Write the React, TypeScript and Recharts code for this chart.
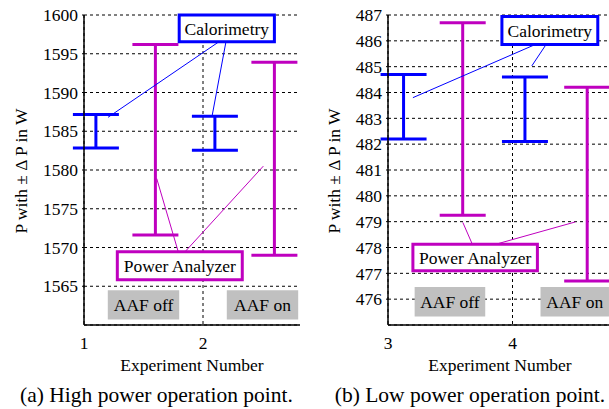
import React from 'react';
import {
  ScatterChart, Scatter, XAxis, YAxis, CartesianGrid, ErrorBar,
  ReferenceArea, ReferenceLine,
} from 'recharts';

const FONT = '"Liberation Serif", "Times New Roman", serif';
const BLUE = '#0000ff';
const MAGENTA = '#bf00bf';
const GRAY = '#c0c0c0';
const FS = 17.5;

// (a) high power operation point
const highCalX = [1.1, 2.1];
const highCalLow = [1582.85, 1582.55];
const highCalHigh = [1587.15, 1586.95];
const highPaX = [1.6, 2.6];
const highPaLow = [1571.6, 1569.0];
const highPaHigh = [1596.2, 1593.9];
const highXTicks = [1, 2];
const highYTicks = [1565, 1570, 1575, 1580, 1585, 1590, 1595, 1600];

// (b) low power operation point
const lowCalX = [3.125, 4.1];
const lowCalLow = [482.2, 482.1];
const lowCalHigh = [484.7, 484.6];
const lowPaX = [3.6, 4.6];
const lowPaLow = [479.25, 476.7];
const lowPaHigh = [486.7, 484.2];
const lowXTicks = [3, 4];
const lowYTicks = [476, 477, 478, 479, 480, 481, 482, 483, 484, 485, 486, 487];

const toRows = (xs: number[], lo: number[], hi: number[]) =>
  xs.map((x, i) => ({ x, y: (lo[i] + hi[i]) / 2, err: (hi[i] - lo[i]) / 2 }));

type Box = { x1: number; x2: number; y1: number; y2: number; label: string };
type Seg = [number, number, number, number];

interface PanelProps {
  left: number;
  clipWidth: number;
  yAxisWidth: number;
  plotWidth: number;
  xDomain: [number, number];
  yDomain: [number, number];
  xTicks: number[];
  yTicks: number[];
  cal: { x: number; y: number; err: number }[];
  pa: { x: number; y: number; err: number }[];
  aaf: Box[];
  calBox: Box;
  paBox: Box;
  calLeaders: Seg[];
  paLeaders: Seg[];
}

const noShape = () => <g />;

function Panel(p: PanelProps) {
  const width = p.yAxisWidth + p.plotWidth + 10;
  const tick = { fontSize: FS, fill: '#000', fontFamily: FONT };
  return (
    <div style={{ position: 'absolute', left: p.left, top: 0, width: p.clipWidth, height: 355, overflow: 'hidden' }}>
      <ScatterChart width={width} height={355} margin={{ top: 15, right: 10, bottom: 0, left: 0 }}>
        <CartesianGrid stroke="#000" strokeDasharray="3 3" strokeWidth={1} />
        <XAxis
          type="number" dataKey="x" domain={p.xDomain} ticks={p.xTicks} allowDataOverflow interval={0}
          height={30} tickLine={false} tickSize={0} tickMargin={12} tick={tick}
          axisLine={{ stroke: '#000', strokeWidth: 1.5 }}
        />
        <YAxis
          type="number" dataKey="y" domain={p.yDomain} ticks={p.yTicks} allowDataOverflow interval={0}
          width={p.yAxisWidth} tickSize={2} tickMargin={4} tick={tick}
          tickLine={{ stroke: '#000' }} axisLine={{ stroke: '#000', strokeWidth: 1.5 }}
        />
        {p.aaf.map((b, i) => (
          <ReferenceArea
            key={'aaf' + i} x1={b.x1} x2={b.x2} y1={b.y1} y2={b.y2} ifOverflow="visible"
            fill={GRAY} fillOpacity={1} stroke="none"
            label={{ value: b.label, position: 'center', fill: '#000', fontSize: FS, fontFamily: FONT }}
          />
        ))}
        <Scatter data={p.cal} shape={noShape} isAnimationActive={false}>
          <ErrorBar dataKey="err" direction="y" width={23} strokeWidth={3} stroke={BLUE} isAnimationActive={false} />
        </Scatter>
        <Scatter data={p.pa} shape={noShape} isAnimationActive={false}>
          <ErrorBar dataKey="err" direction="y" width={23} strokeWidth={3} stroke={MAGENTA} isAnimationActive={false} />
        </Scatter>
        {p.calLeaders.map((s, i) => (
          <ReferenceLine key={'cl' + i} segment={[{ x: s[0], y: s[1] }, { x: s[2], y: s[3] }]}
            stroke={BLUE} strokeWidth={1} ifOverflow="visible" />
        ))}
        {p.paLeaders.map((s, i) => (
          <ReferenceLine key={'pl' + i} segment={[{ x: s[0], y: s[1] }, { x: s[2], y: s[3] }]}
            stroke={MAGENTA} strokeWidth={1} ifOverflow="visible" />
        ))}
        {[{ b: p.calBox, c: BLUE }, { b: p.paBox, c: MAGENTA }].map(({ b, c }, i) => (
          <ReferenceArea
            key={'box' + i} x1={b.x1} x2={b.x2} y1={b.y1} y2={b.y2} ifOverflow="visible"
            fill="#fff" fillOpacity={1} stroke={c} strokeWidth={3}
            label={{ value: b.label, position: 'center', fill: '#000', fontSize: FS, fontFamily: FONT }}
          />
        ))}
      </ScatterChart>
    </div>
  );
}

export default function App() {
  const txt = { fontSize: FS, fontFamily: FONT, fill: '#000' };
  return (
    <div style={{ position: 'absolute', left: 0, top: 0, width: 609, height: 409, background: '#fff', fontFamily: FONT }}>
      <style>{`.recharts-wrapper text, .recharts-text { font-family: ${FONT}; }`}</style>
      <Panel
        left={0} clipWidth={300} yAxisWidth={84} plotWidth={238}
        xDomain={[1, 3]} yDomain={[1560, 1600]} xTicks={highXTicks} yTicks={highYTicks}
        cal={toRows(highCalX, highCalLow, highCalHigh)}
        pa={toRows(highPaX, highPaLow, highPaHigh)}
        aaf={[
          { x1: 1.2, x2: 1.8, y1: 1560.7, y2: 1564.5, label: 'AAF off' },
          { x1: 2.2, x2: 2.8, y1: 1560.7, y2: 1564.5, label: 'AAF on' },
        ]}
        calBox={{ x1: 1.8, x2: 2.6, y1: 1596.55, y2: 1600, label: 'Calorimetry' }}
        paBox={{ x1: 1.28, x2: 2.33, y1: 1565.85, y2: 1569.45, label: 'Power Analyzer' }}
        calLeaders={[[2.134, 1596.55, 1.202, 1586.8], [2.193, 1596.55, 2.078, 1587.1]]}
        paLeaders={[[1.611, 1578.9, 1.792, 1569.45], [1.849, 1569.45, 2.507, 1580.5]]}
      />
      <Panel
        left={300} clipWidth={309} yAxisWidth={88} plotWidth={249}
        xDomain={[3, 5]} yDomain={[475, 487]} xTicks={lowXTicks} yTicks={lowYTicks}
        cal={toRows(lowCalX, lowCalLow, lowCalHigh)}
        pa={toRows(lowPaX, lowPaLow, lowPaHigh)}
        aaf={[
          { x1: 3.214, x2: 3.781, y1: 475.33, y2: 476.47, label: 'AAF off' },
          { x1: 4.225, x2: 4.775, y1: 475.33, y2: 476.47, label: 'AAF on' },
        ]}
        calBox={{ x1: 3.915, x2: 4.685, y1: 485.86, y2: 486.94, label: 'Calorimetry' }}
        paBox={{ x1: 3.2, x2: 4.2, y1: 477.1, y2: 478.13, label: 'Power Analyzer' }}
        calLeaders={[[4.184, 485.86, 3.2, 483.8], [4.27, 485.86, 4.155, 485.03]]}
        paLeaders={[[3.677, 478.13, 3.601, 478.97], [3.869, 478.13, 4.505, 478.99]]}
      />
      <svg width={609} height={409} style={{ position: 'absolute', left: 0, top: 0, pointerEvents: 'none' }}>
        <text {...txt} textAnchor="middle" transform="translate(27,171) rotate(-90)">P with ± Δ P in W</text>
        <text {...txt} textAnchor="middle" transform="translate(340,171) rotate(-90)">P with ± Δ P in W</text>
        <text {...txt} textAnchor="middle" x={192} y={371}>Experiment Number</text>
        <text {...txt} textAnchor="middle" x={500} y={371}>Experiment Number</text>
        <text {...txt} fontSize={21.5} textAnchor="middle" x={156.5} y={402}>(a) High power operation point.</text>
        <text {...txt} fontSize={21.5} textAnchor="middle" x={470} y={402}>(b) Low power operation point.</text>
      </svg>
    </div>
  );
}
